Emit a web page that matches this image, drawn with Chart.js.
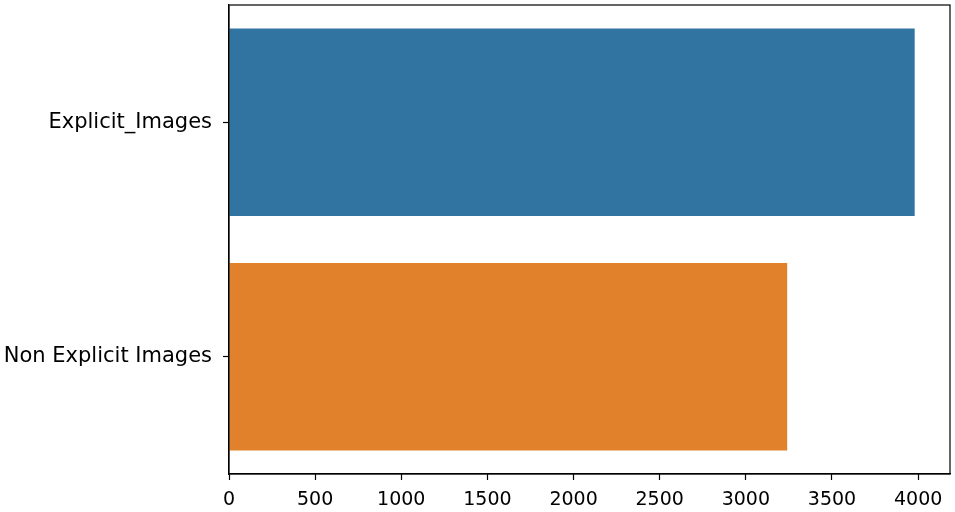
<!DOCTYPE html>
<html>
<head>
<meta charset="utf-8">
<script src="https://cdn.jsdelivr.net/npm/chart.js@4/dist/chart.umd.min.js"></script>
<style>
  html, body { margin: 0; padding: 0; background: #fff; }
  #wrap { width: 955px; height: 512px; }
</style>
</head>
<body>
<div id="wrap"><canvas id="c"></canvas></div>
<script>
// values
var categories = ['Explicit_Images', 'Non Explicit Images'];
var counts = [3980, 3240];
var barColors = ['#3274a1', '#e1812c'];
var xTicks = [0, 500, 1000, 1500, 2000, 2500, 3000, 3500, 4000];
var xMax = 4185;

// matplotlib style frame on all four sides
var frame = {
  id: 'frame',
  afterDraw: function (chart) {
    var a = chart.chartArea, g = chart.ctx;
    g.save();
    g.strokeStyle = '#000';
    g.lineWidth = 1.2;
    g.strokeRect(a.left, a.top, a.right - a.left, a.bottom - a.top);
    g.restore();
  }
};

Chart.defaults.font.family = 'DejaVu Sans';
Chart.defaults.color = '#000';

var ctx = document.getElementById('c');
new Chart(ctx, {
  type: 'bar',
  data: {
    labels: categories,
    datasets: [{
      data: counts,
      backgroundColor: barColors,
      borderWidth: 0,
      barPercentage: 0.8,
      categoryPercentage: 1.0
    }]
  },
  options: {
    indexAxis: 'y',
    responsive: true,
    maintainAspectRatio: false,
    animation: false,
    layout: { padding: { top: 5, right: 5, left: 0, bottom: 0 } },
    plugins: {
      legend: { display: false },
      tooltip: { enabled: false }
    },
    scales: {
      x: {
        min: 0,
        max: xMax,
        afterBuildTicks: function (s) {
          s.ticks = xTicks.map(function (v) { return { value: v }; });
        },
        afterFit: function (s) { s.height = 38; },
        ticks: {
          font: { size: 19 },
          padding: 9,
          maxRotation: 0,
          callback: function (v) { return String(v); }
        },
        grid: { drawOnChartArea: false, tickLength: 6, color: '#000', tickWidth: 1.2 },
        border: { color: '#000', width: 1.2 }
      },
      y: {
        offset: true,
        afterFit: function (s) {
          s.width = 229;
          s.paddingTop = 0;
          s.paddingBottom = 0;
        },
        ticks: { font: { size: 21 }, padding: 11 },
        grid: { drawOnChartArea: false, tickLength: 6, color: '#000', tickWidth: 1.2, offset: false },
        border: { color: '#000', width: 1.2 }
      }
    }
  },
  plugins: [frame]
});
</script>
</body>
</html>
